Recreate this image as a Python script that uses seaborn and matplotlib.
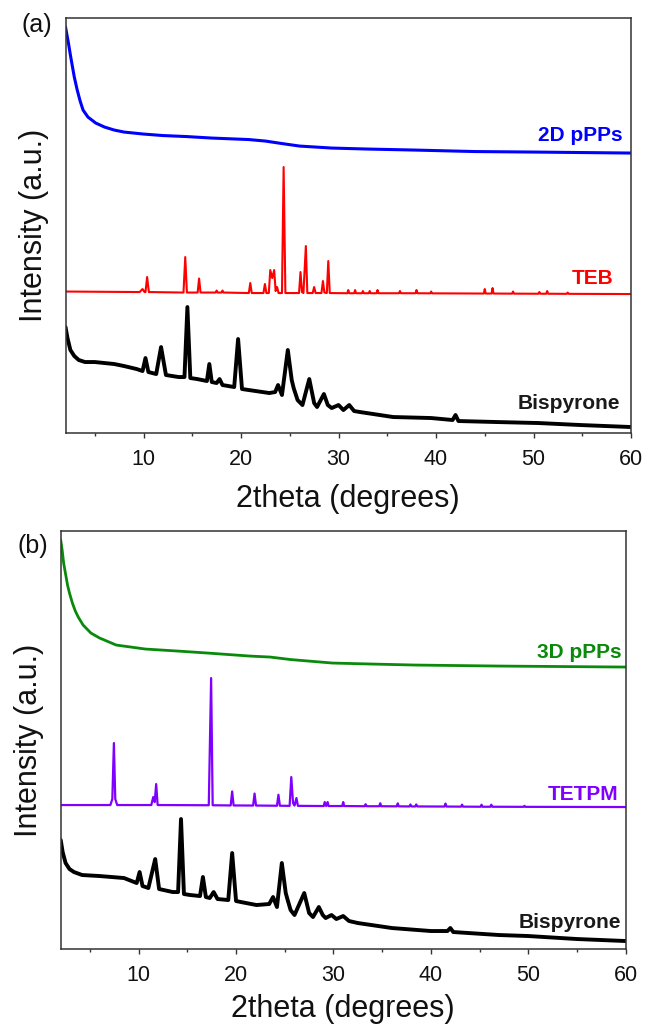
import numpy as np
import pandas as pd
import matplotlib
matplotlib.use("Agg")
import matplotlib.pyplot as plt
import seaborn as sns

# ---------------- data (2theta in degrees, intensity in a.u. as stacked in the figure) -------------
# Panel (a)
ppp2d_x = [2.0, 2.15, 2.3, 2.5, 2.7, 2.9, 3.2, 3.5, 3.8, 4.3, 5.1, 6.0, 7.0, 8.0, 10, 12, 14.4, 17,
           20.8, 22.5, 24.2, 26, 29.3, 33, 37.8, 44, 50, 55, 60]
ppp2d_y = [406, 398, 390, 378, 367, 356, 343, 332, 323, 316, 310, 306, 303, 301, 299, 297.5, 296.5, 295,
           293.5, 292, 289.5, 287, 285, 284, 283, 281.5, 281, 280.5, 280]

teb_x = [2.0, 9.6, 9.9, 10.1, 10.2, 10.37, 10.55, 14.1, 14.28, 14.45, 15.55, 15.7, 15.85,
         17.4, 17.5, 17.6, 18.0, 18.1, 18.2, 20.8, 20.95, 21.1, 22.3, 22.45, 22.6,
         22.85, 23.0, 23.2, 23.4, 23.55, 23.7, 23.85, 24.2, 24.37, 24.55,
         25.95, 26.1, 26.25, 26.4, 26.65, 26.8, 27.35, 27.5, 27.65,
         28.25, 28.4, 28.55, 28.8, 28.95, 29.1, 30.9, 31.0, 31.1, 31.6, 31.7, 31.8,
         32.4, 32.5, 32.6, 33.1, 33.2, 33.3, 33.9, 34.0, 34.1, 36.2, 36.3, 36.4,
         37.9, 38.0, 38.1, 39.4, 39.5, 39.6, 44.9, 45.0, 45.1, 45.7, 45.8, 45.9,
         47.8, 47.9, 48.0, 50.5, 50.6, 50.7, 51.3, 51.4, 51.5, 53.4, 53.5, 53.6, 60.0]
teb_y = [141.5, 141, 144, 141, 141, 156, 141, 140.5, 176, 140.5, 140.5, 154.5, 140.5,
         140.5, 142.5, 140.5, 140.5, 142.5, 140.5, 140, 150, 140, 140, 149, 140,
         140, 163, 155, 163, 142, 146, 140, 140, 266, 140,
         140, 161, 141, 140, 187, 140, 140, 146, 140,
         140, 152, 140.5, 140, 172, 140, 139.8, 143, 139.8, 139.8, 143, 139.8,
         139.8, 142, 139.8, 139.8, 142, 139.8, 139.8, 143, 139.8, 139.8, 142, 139.8,
         139.8, 143, 139.8, 139.7, 141.5, 139.7, 139.5, 144, 139.5, 139.5, 145, 139.5,
         139.4, 141.5, 139.4, 139.3, 141, 139.3, 139.3, 142, 139.3, 139.2, 140.5, 139.2, 139]

bisa_x = [2, 2.2, 2.5, 2.9, 3.36, 4, 5, 6, 7, 8, 9.3, 9.9, 10.2, 10.5, 11.3, 11.8, 12.3, 13.6, 14.2,
          14.5, 14.8, 15.5, 16.5, 16.75, 17.0, 17.5, 17.8, 18.1, 19.3, 19.7, 20.1, 20.8, 22.9, 23.5,
          23.8, 24.2, 24.8, 25.2, 25.4, 25.8, 26.3, 27.0, 27.5, 27.8, 28.5, 28.9, 29.3, 30.0, 30.5,
          31.1, 31.6, 32.2, 35.6, 39.5, 41.7, 42.0, 42.3, 46.2, 50.5, 54.8, 60]
bisa_y = [106, 95, 83, 77, 73, 71, 71, 70, 69, 67, 64, 62, 75, 61, 59, 86, 58, 56, 56,
          126, 55, 54, 52, 69, 51, 50, 54, 48, 46, 94, 44, 43, 40, 41,
          48, 38, 83, 53, 45, 33, 28, 54, 30, 26, 39, 28, 25, 28, 23,
          28, 22, 21, 16, 15, 13, 18, 12, 11, 10, 8, 6]

# Panel (b)
ppp3d_x = [2.0, 2.15, 2.3, 2.5, 2.7, 2.9, 3.2, 3.5, 3.8, 4.3, 5.1, 6.0, 7.7, 10.7, 14, 17.1, 21.4,
           23.5, 25.6, 29.9, 34, 38.4, 47, 60]
ppp3d_y = [409, 399, 386, 375, 364, 356, 346, 338, 332, 324, 316, 311, 304, 300, 298, 296, 293,
           292, 289.5, 286, 285, 284, 283, 282]

tetpm_x = [2.0, 7.1, 7.3, 7.46, 7.6, 7.8, 11.3, 11.5, 11.65, 11.8, 11.95, 17.2, 17.44, 17.6,
           19.45, 19.6, 19.75, 21.75, 21.9, 22.05, 24.2, 24.35, 24.5, 25.5, 25.67, 25.85, 26.0, 26.2, 26.35,
           29.0, 29.1, 29.25, 29.4, 29.5, 30.9, 31.0, 31.1, 33.2, 33.3, 33.4, 34.7, 34.8, 34.9,
           36.5, 36.6, 36.7, 37.8, 37.9, 38.0, 38.4, 38.5, 38.6, 41.4, 41.5, 41.6, 43.1, 43.2, 43.3,
           45.1, 45.2, 45.3, 46.1, 46.2, 46.3, 49.5, 49.6, 49.7, 60.0]
tetpm_y = [144, 144, 150, 206, 150, 144, 144, 152, 147, 165, 144, 143.8, 271, 143.8,
           143.6, 157.6, 143.6, 143.5, 155.5, 143.5, 143.3, 154.3, 143.3, 143.2, 172, 146, 143.5, 151, 143.2,
           143, 147, 143, 147, 143, 143, 147, 143, 142.8, 144.8, 142.8, 142.8, 145.8, 142.8,
           142.7, 145.7, 142.7, 142.6, 144.6, 142.6, 142.6, 144.6, 142.6, 142.5, 145.5, 142.5, 142.4, 144.4, 142.4,
           142.3, 144.3, 142.3, 142.3, 144.3, 142.3, 142.2, 143.2, 142.2, 142]

bisb_x = [2, 2.2, 2.5, 2.9, 3.36, 4.2, 6, 8.5, 9.8, 10.1, 10.4, 11.0, 11.7, 12.1, 13.5, 14.05, 14.35,
          14.65, 15.3, 16.3, 16.6, 16.9, 17.3, 17.7, 18.1, 19.2, 19.6, 20.0, 20.5, 22.1, 23.4, 23.8,
          24.2, 24.7, 25.1, 25.3, 25.6, 26.0, 27.0, 27.5, 27.9, 28.5, 28.9, 29.2, 29.8, 30.3, 31.0,
          31.6, 32.5, 36, 40, 41.7, 42, 42.3, 47, 50, 55, 60]
bisb_y = [109, 97, 86, 80, 77, 74, 73, 71, 66, 77, 63, 61, 90, 60, 57, 57, 130,
          55, 54, 53, 72, 52, 51, 57, 50, 49, 96, 48, 47, 44, 45, 52,
          42, 86, 56, 49, 39, 34, 56, 36, 32, 42, 34, 31, 34, 30, 33,
          28, 26, 21, 18, 18, 21, 17, 14, 13, 10, 8]

xticks = [10, 20, 30, 40, 50, 60]
x_label = "2theta (degrees)"
y_label = "Intensity (a.u.)"

# ---------------- style ----------------
sns.set_theme(style="ticks")
plt.rcParams["font.family"] = ["Liberation Sans", "DejaVu Sans"]

fig = plt.figure(figsize=(6.5, 10.32), dpi=100)
ax_a = fig.add_axes([0.1008, 0.5804, 0.870, 0.4018])
ax_b = fig.add_axes([0.0934, 0.0804, 0.8692, 0.4050])


def draw(ax, x, y, color, lw):
    df = pd.DataFrame({"x": x, "y": y})
    sns.lineplot(data=df, x="x", y="y", ax=ax, color=color, linewidth=lw,
                 estimator=None, sort=False, legend=False)


draw(ax_a, ppp2d_x, ppp2d_y, "#0000ff", 2.2)
draw(ax_a, teb_x, teb_y, "#ff0000", 1.5)
draw(ax_a, bisa_x, bisa_y, "#000000", 2.8)

draw(ax_b, ppp3d_x, ppp3d_y, "#0a8a0a", 2.0)
draw(ax_b, tetpm_x, tetpm_y, "#8000ff", 1.6)
draw(ax_b, bisb_x, bisb_y, "#000000", 2.8)

lab_kw = dict(ha="right", va="center", fontsize=15, fontweight="bold")
ax_a.text(59.15, 298, "2D pPPs", color="#0000ff", **lab_kw)
ax_a.text(58.2, 155, "TEB", color="#ff0000", **lab_kw)
ax_a.text(58.9, 30, "Bispyrone", color="#1a1a1a", **lab_kw)
ax_b.text(59.6, 297, "3D pPPs", color="#0a8a0a", **lab_kw)
ax_b.text(59.2, 155, "TETPM", color="#8000ff", **lab_kw)
ax_b.text(59.5, 27, "Bispyrone", color="#1a1a1a", **lab_kw)

for ax, ytop, xpad in [(ax_a, 414.7, 10), (ax_b, 418, 6)]:
    ax.set_xlim(2, 60)
    ax.set_ylim(0, ytop)
    ax.set_xticks(xticks)
    ax.set_xticks([5, 15, 25, 35, 45, 55], minor=True)
    ax.set_yticks([])
    ax.tick_params(axis="x", which="major", direction="out", length=3.3, width=1.0,
                   labelsize=15.5, pad=8, color="#333333", labelcolor="#111111")
    ax.tick_params(axis="x", which="minor", direction="out", length=2.2, width=1.0, color="#333333")
    ax.set_xlabel(x_label, fontsize=22, color="#111111", labelpad=xpad)
    ax.set_ylabel(y_label, fontsize=22, color="#111111", labelpad=12)
    for s in ax.spines.values():
        s.set_visible(True)
        s.set_color("#333333")
        s.set_linewidth(1.1)

fig.text(37 / 650, 1 - 25 / 1032, "(a)", fontsize=18, ha="center", va="center", color="#111111")
fig.text(33 / 650, 1 - 546 / 1032, "(b)", fontsize=18, ha="center", va="center", color="#111111")

fig.savefig("out.png", dpi=100)
